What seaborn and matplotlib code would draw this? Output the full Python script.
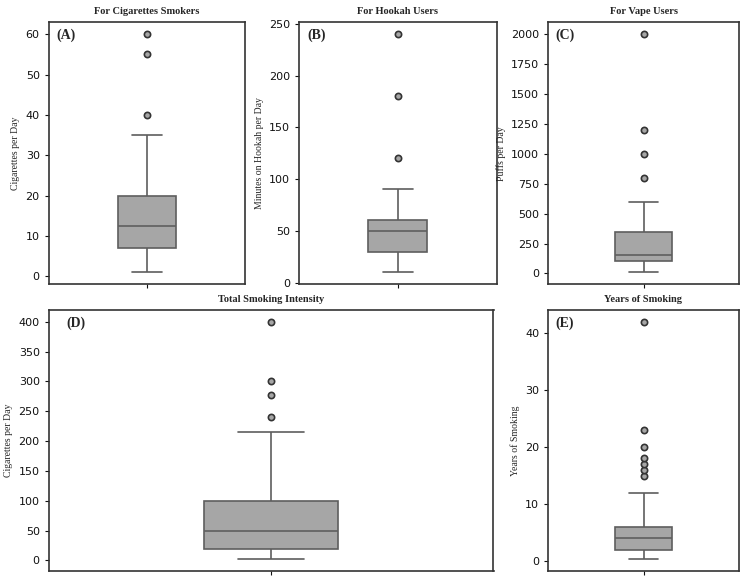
import numpy as np
import pandas as pd
import matplotlib
matplotlib.use("Agg")
import matplotlib.pyplot as plt
import seaborn as sns

# raw values (quartiles, whiskers, outliers)
cig_per_day = [1, 3, 5, 6, 7, 10, 10, 10, 12.5, 15, 15, 20, 20, 35, 40, 55, 60]
hookah_minutes = [10, 15, 20, 30, 30, 30, 40, 45, 50, 60, 60, 60, 60, 90, 120, 180, 240]
vape_puffs = [10, 20, 50, 60, 100, 100, 100, 100, 120, 150, 150, 200, 200, 300, 300, 350,
              600, 800, 1000, 1200, 2000]
total_intensity = [2, 5, 10, 10, 15, 20, 20, 30, 40, 40, 50, 60, 70, 80, 100, 100,
                   215, 240, 278, 300, 400]
years_smoking = [0.3, 0.5, 1, 1, 1, 1.5, 2, 2, 2, 2, 3, 3, 3, 3, 4, 4, 4, 4, 5, 5, 5, 5,
                 6, 6, 6, 12, 15, 16, 17, 18, 20, 23, 42]

panels = [
    ("For Cigarettes Smokers", "Cigarettes per Day", "(A)", cig_per_day),
    ("For Hookah Users", "Minutes on Hookah per Day", "(B)", hookah_minutes),
    ("For Vape Users", "Puffs per Day", "(C)", vape_puffs),
    ("Total Smoking Intensity", "Cigarettes per Day", "(D)", total_intensity),
    ("Years of Smoking", "Years of Smoking", "(E)", years_smoking),
]

sns.set_style("white")
plt.rcParams['font.family'] = ['DejaVu Sans']

fig = plt.figure(figsize=(7.5, 5.87), dpi=100)
# axes boxes in figure fractions
rects = [
    [0.065, 0.516, 0.262, 0.446],
    [0.399, 0.516, 0.263, 0.446],
    [0.731, 0.516, 0.254, 0.446],
    [0.065, 0.027, 0.593, 0.445],
    [0.731, 0.027, 0.254, 0.445],
]

serif = "Liberation Serif"
for (title, ylabel, tag, vals), rect in zip(panels, rects):
    ax = fig.add_axes(rect)
    df = pd.DataFrame({"value": vals})
    sns.boxplot(data=df, y="value", ax=ax, width=0.3, color="#a6a6a6",
                linecolor="#5e5e5e", saturation=1, linewidth=1.2,
                flierprops=dict(marker="o", markersize=4.5, markerfacecolor="#a6a6a6",
                                markeredgecolor="#333333", markeredgewidth=1.2))
    ax.set_xlim(-0.5, 0.5)
    ax.set_xticks([0])
    ax.set_xticklabels([""])
    ax.tick_params(axis="both", length=3, width=0.8, labelsize=8, direction="out",
                   bottom=True, left=True, colors="#111111")
    ax.set_xlabel("")
    ax.set_ylabel(ylabel, fontfamily=serif, fontsize=7)
    ax.set_title(title, fontfamily=serif, fontweight="bold", fontsize=7.5, pad=6)
    ax.text(0.04, 0.975, tag, transform=ax.transAxes, fontfamily=serif,
            fontweight="bold", fontsize=10, va="top", ha="left")
    for s in ax.spines.values():
        s.set_visible(True)
        s.set_color("#333333")
        s.set_linewidth(1.2)

fig.savefig("out.png", dpi=100)
